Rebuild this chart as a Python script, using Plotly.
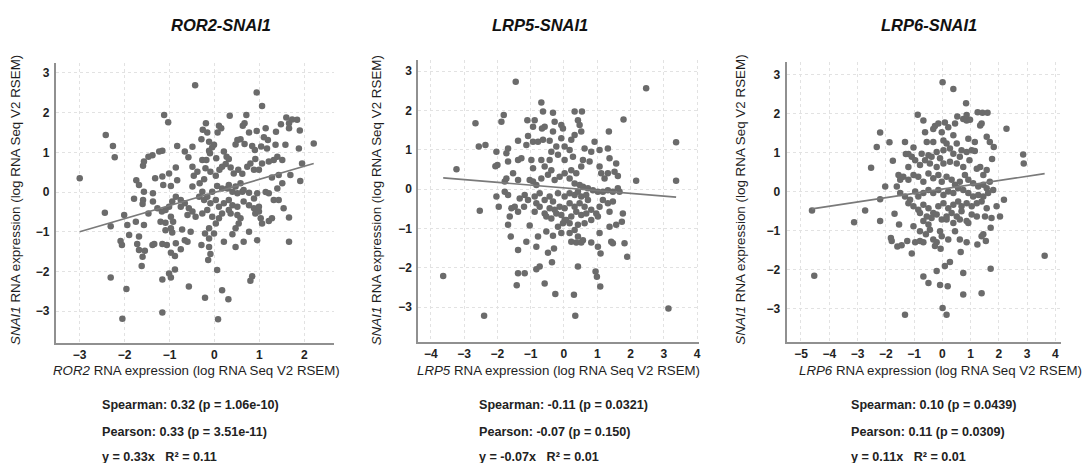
import plotly.graph_objects as go

W, H = 1089, 463

panel_titles = ["ROR2-SNAI1", "LRP5-SNAI1", "LRP6-SNAI1"]
x_genes = ["ROR2", "LRP5", "LRP6"]
y_gene = "SNAI1"

spearman_text = ["Spearman: 0.32 (p = 1.06e-10)", "Spearman: -0.11 (p = 0.0321)", "Spearman: 0.10 (p = 0.0439)"]
pearson_text = ["Pearson: 0.33 (p = 3.51e-11)", "Pearson: -0.07 (p = 0.150)", "Pearson: 0.11 (p = 0.0309)"]
fit_text = ["y = 0.33x   R² = 0.11", "y = -0.07x   R² = 0.01", "y = 0.11x   R² = 0.01"]

fit_slope = [0.33, -0.07, 0.11]
fit_intercept = [-0.01, 0.03, 0.07]

x_ticks = [[-3, -2, -1, 0, 1, 2], [-4, -3, -2, -1, 0, 1, 2, 3, 4], [-5, -4, -3, -2, -1, 0, 1, 2, 3, 4]]
y_ticks = [-3, -2, -1, 0, 1, 2, 3]
x_ranges = [[-3.53, 2.67], [-4.38, 4.05], [-5.51, 4.20]]
y_ranges = [[-3.80, 3.25], [-3.89, 3.28], [-3.85, 3.33]]

ror2_snai1 = [
    (-0.43, 2.69), (0.94, 2.51), (1.06, 2.17), (-1.12, 1.94), (-1.03, 1.76), (0.34, 1.92), (0.71, 1.94), (0.67, 1.73),
    (0.63, 1.67), (1.60, 1.88), (1.73, 1.83), (1.84, 1.82), (1.66, 1.73), (1.66, 1.61), (1.48, 1.71), (1.90, 1.55),
    (2.21, 1.22), (0.94, 1.54), (0.77, 1.50), (1.14, 1.61), (1.37, 1.52), (1.10, 1.38), (1.19, 1.31), (1.04, 1.15),
    (1.17, 1.10), (0.10, 1.67), (0.15, 1.61), (0.07, 1.50), (-0.16, 1.50), (-0.26, 1.57), (-0.19, 1.73), (-0.29, 1.33),
    (-0.12, 1.27), (-0.01, 1.19), (-0.05, 1.13), (0.51, 1.31), (0.58, 1.33), (0.47, 1.20), (0.67, 1.21), (0.84, 1.16),
    (0.90, 1.06), (1.36, 1.19), (1.58, 1.19), (1.88, 1.10), (1.95, 0.72), (1.91, 0.28), (0.21, 1.02), (0.27, 0.89),
    (0.32, 0.83), (-0.12, 1.04), (-0.10, 0.98), (0.04, 0.85), (-0.49, 1.14), (-0.66, 1.02), (-0.58, 0.88), (-0.27, 0.81),
    (-0.18, 0.81), (-0.83, 1.16), (-1.16, 1.04), (-1.23, 1.02), (-1.38, 0.93), (-1.47, 0.89), (-1.59, 0.66), (-1.57, 0.77),
    (-2.42, 1.44), (-2.26, 1.16), (-2.22, 0.88), (-3.00, 0.35), (-1.74, 0.30), (-1.68, 0.18), (-1.79, -0.17), (-1.57, 0.01),
    (-1.59, -0.20), (-1.60, -0.30), (-1.32, 0.35), (-1.37, -0.03), (-1.47, -0.54), (-1.37, -0.24), (-1.16, 0.39), (-1.14, 0.18),
    (-1.01, 0.47), (-0.97, 0.15), (-0.86, 0.62), (-0.83, 0.30), (-0.49, 0.64), (-0.46, 0.41), (-0.38, 0.51), (-0.49, 0.14),
    (-0.33, 0.22), (-0.23, 0.32), (-0.20, 0.60), (-0.09, 0.51), (0.03, 0.41), (0.11, 0.56), (0.17, 0.64), (0.25, 0.71),
    (0.36, 0.62), (0.43, 0.47), (0.53, 0.56), (0.62, 0.46), (0.73, 0.64), (0.80, 0.72), (0.91, 0.83), (0.88, 0.56),
    (0.99, 0.56), (1.06, 0.72), (1.21, 0.77), (1.32, 0.81), (1.40, 0.89), (1.51, 0.81), (1.28, 0.37), (1.43, 0.43),
    (1.69, 0.43), (1.51, 0.22), (1.40, 0.09), (0.58, 0.22), (0.47, 0.14), (0.62, 0.01), (0.77, -0.02), (0.88, -0.16),
    (0.95, -0.03), (0.32, 0.18), (0.17, 0.09), (0.06, 0.15), (-0.05, 0.01), (-0.27, 0.01), (-0.34, -0.12), (-0.23, -0.20),
    (-0.16, -0.12), (-0.09, -0.28), (0.03, -0.20), (0.10, -0.37), (-0.86, -0.12), (-0.75, -0.20), (-0.66, -0.28), (-0.75, -0.37),
    (-0.94, -0.24), (-1.01, -0.37), (-1.09, -0.45), (-1.17, -0.49), (-1.27, -0.41), (-0.57, -0.41), (-0.49, -0.49), (-0.60, -0.58),
    (-0.42, -0.62), (-0.27, -0.54), (-0.16, -0.45), (-0.05, -0.62), (0.10, -0.66), (0.03, -0.79), (-0.12, -0.91), (-0.21, -1.04),
    (-0.12, -1.17), (-0.97, -0.62), (-0.92, -0.75), (-1.09, -0.77), (-1.20, -0.75), (-0.97, -0.91), (-1.09, -0.96), (-0.94, -1.02),
    (-1.57, -0.83), (-1.75, -0.75), (-1.94, -0.83), (-1.90, -1.08), (-2.09, -1.23), (-2.06, -1.33), (-1.68, -1.12), (-1.72, -1.31),
    (-1.68, -1.46), (-1.55, -1.48), (-1.60, -1.63), (-1.62, -1.86), (-2.44, -0.52), (-2.31, -0.86), (-2.01, -0.58), (-1.38, -1.33),
    (-1.34, -1.31), (-1.16, -1.31), (-1.06, -1.33), (-0.97, -1.53), (-0.86, -1.29), (-0.88, -1.61), (-0.75, -1.44), (-0.66, -1.21),
    (-0.60, -1.25), (-0.53, -1.00), (-0.72, -0.94), (-0.88, -1.95), (-1.01, -2.05), (-1.16, -2.20), (-0.97, -2.15), (-0.29, -1.33),
    (-0.12, -1.38), (-0.09, -1.56), (-0.14, -1.71), (-0.01, -1.04), (0.21, -1.25), (0.40, -1.06), (0.47, -0.91), (0.54, -0.79),
    (0.58, -0.66), (0.51, -0.58), (0.36, -0.54), (0.47, -1.38), (0.65, -1.25), (0.77, -1.00), (0.95, -1.21), (0.91, -0.54),
    (0.99, -0.49), (1.06, -0.79), (1.21, -0.73), (1.28, -0.66), (1.03, -0.66), (0.88, -0.41), (0.99, -0.37), (1.14, 0.00),
    (1.21, -0.03), (1.32, -0.20), (1.43, -0.20), (1.54, -0.41), (1.66, -0.64), (1.66, -1.25), (0.32, -0.20), (0.40, -0.33),
    (0.51, -0.37), (0.21, -0.28), (0.32, -0.45), (0.17, -0.54), (0.65, -0.24), (0.77, -0.33), (0.65, 0.05), (0.51, -0.03),
    (0.40, 0.01), (0.29, 0.09), (0.06, -1.96), (0.17, -2.47), (0.31, -2.70), (-0.21, -2.66), (-0.57, -2.38), (0.84, -2.12),
    (0.80, -2.23), (-1.96, -2.44), (-2.05, -3.19), (-1.16, -3.03), (0.08, -3.20), (-2.31, -2.15),
]

lrp5_snai1 = [
    (-1.45, 2.73), (2.47, 2.56), (-0.68, 2.20), (-2.66, 1.67), (-1.88, 1.71), (-1.81, 1.88), (-2.56, 1.08), (-2.36, 1.12),
    (-3.23, 0.50), (-2.53, -0.55), (-3.63, -2.21), (-2.40, -3.22), (0.34, -3.22), (3.14, -3.04), (3.37, 1.19), (3.37, 0.21),
    (2.17, 0.21), (1.79, 1.77), (1.35, 1.46), (-1.10, 1.75), (-0.88, 1.75), (-0.93, 1.58), (-0.63, 1.97), (-0.33, 1.94),
    (-0.28, 1.71), (-0.58, 1.58), (-0.66, 1.54), (-0.33, 1.46), (-0.08, 1.63), (-0.03, 1.54), (0.32, 1.97), (0.54, 1.97),
    (0.42, 1.75), (0.47, 1.63), (0.32, 1.37), (0.52, 1.46), (0.22, 1.25), (-1.08, 1.35), (-0.93, 1.20), (-0.78, 1.20),
    (-0.63, 1.25), (-0.43, 1.23), (-0.08, 1.29), (0.02, 1.08), (-1.38, 1.23), (-1.13, 1.12), (-1.68, 1.03), (-1.73, 0.91),
    (-2.03, 0.95), (-2.00, 0.61), (-2.06, 0.58), (-1.68, 0.70), (-1.38, 0.74), (-1.28, 0.78), (-0.98, 0.74), (-0.93, 0.53),
    (-0.68, 0.74), (-0.58, 0.57), (-0.43, 0.74), (-0.38, 0.95), (-0.18, 0.87), (-0.23, 1.08), (0.02, 0.74), (0.17, 0.99),
    (0.27, 0.82), (0.22, 0.48), (0.37, 0.40), (0.52, 0.57), (0.57, 0.74), (0.77, 0.70), (0.82, 0.95), (0.62, 1.03),
    (0.92, 1.20), (1.07, 0.99), (1.32, 1.03), (1.37, 0.78), (1.57, 0.65), (1.52, 0.44), (1.32, 0.40), (1.22, 0.27),
    (1.62, 0.33), (1.12, 0.40), (1.07, 0.57), (-1.73, 0.27), (-1.78, 0.19), (-1.53, 0.40), (-1.38, 0.23), (-1.03, 0.23),
    (-0.93, 0.19), (-0.83, 0.10), (-0.68, 0.27), (-0.48, 0.36), (-0.38, 0.48), (-0.28, 0.23), (-0.13, 0.31), (0.02, 0.40),
    (0.17, 0.27), (0.32, 0.14), (0.47, 0.10), (0.57, 0.06), (0.72, 0.02), (0.87, -0.03), (1.02, -0.07), (1.17, -0.07),
    (1.32, -0.03), (1.47, -0.07), (1.62, 0.02), (1.67, -0.07), (-1.78, -0.07), (-1.68, -0.15), (-2.03, -0.19), (-1.96, -0.45),
    (-1.58, -0.49), (-1.48, -0.45), (-1.33, -0.24), (-1.18, -0.15), (-1.08, -0.28), (-1.20, -0.45), (-1.38, -0.58), (-1.63, -0.70),
    (-1.68, -0.91), (-1.60, -1.21), (-1.38, -1.55), (-1.13, -1.34), (-1.03, -0.93), (-0.88, -0.19), (-0.73, -0.11), (-0.58, -0.28),
    (-0.43, -0.19), (-0.33, -0.32), (-0.18, -0.11), (0.02, -0.19), (0.17, -0.11), (0.32, -0.15), (0.42, -0.07), (0.52, -0.19),
    (0.67, -0.15), (0.72, -0.28), (0.62, -0.45), (0.47, -0.36), (0.32, -0.45), (0.17, -0.36), (0.02, -0.49), (-0.13, -0.45),
    (-0.28, -0.53), (-0.43, -0.49), (-0.58, -0.62), (-0.73, -0.45), (-0.83, -0.36), (-0.88, -0.58), (-0.53, -0.70), (-0.38, -0.75),
    (-0.23, -0.62), (-0.08, -0.66), (0.07, -0.79), (0.22, -0.70), (0.37, -0.58), (0.52, -0.66), (0.67, -0.62), (0.82, -0.53),
    (0.97, -0.62), (1.07, -0.45), (1.17, -0.28), (1.32, -0.36), (1.47, -0.32), (1.37, -0.58), (1.02, -0.70), (0.82, -0.79),
    (0.62, -0.87), (0.42, -0.91), (0.17, -0.87), (-0.03, -0.87), (-0.18, -0.96), (0.02, -0.79), (-0.53, -1.08), (-0.33, -1.19),
    (-0.08, -1.12), (0.17, -1.12), (0.32, -1.04), (0.42, -1.21), (0.57, -1.30), (0.22, -1.34), (0.37, -1.36), (0.52, -1.36),
    (0.82, -1.36), (1.07, -1.12), (1.02, -1.47), (1.10, -1.64), (1.42, -1.34), (1.47, -1.38), (1.82, -1.38), (1.77, -0.62),
    (1.57, -0.91), (1.74, -0.83), (1.90, -1.72), (1.37, -0.96), (-0.78, -1.21), (-0.83, -1.47), (-0.48, -1.62), (-0.30, -1.51),
    (-0.36, -1.86), (-0.83, -2.04), (-0.73, -1.97), (-0.58, -2.40), (-0.26, -2.67), (0.30, -2.69), (0.42, -1.97), (0.95, -2.10),
    (0.99, -2.23), (1.09, -2.48), (-1.38, -2.14), (-1.18, -2.14), (-1.42, -2.45),
]

lrp6_snai1 = [
    (0.01, 2.81), (0.39, 2.64), (0.84, 2.27), (-0.87, 1.98), (1.25, 2.04), (1.42, 2.03), (1.60, 2.03), (2.27, 1.62),
    (2.86, 0.96), (2.88, 0.73), (3.62, -1.64), (-4.53, -2.15), (-4.61, -0.48), (-3.12, -0.78), (-2.73, -0.48), (-2.20, -0.75),
    (-2.52, 0.62), (-2.32, 1.15), (-2.20, 1.52), (-1.87, 1.27), (-1.75, 0.80), (-2.02, 0.14), (-2.20, -0.19), (-1.69, -0.56),
    (-0.67, 1.83), (-0.61, 1.53), (-0.32, 1.61), (-0.26, 1.69), (-0.14, 1.75), (0.09, 1.78), (-0.02, 1.53), (0.21, 1.66),
    (0.45, 1.75), (0.53, 1.93), (0.74, 1.87), (0.86, 1.83), (0.98, 1.85), (1.39, 1.75), (1.34, 1.70), (0.86, 1.97),
    (-1.32, 1.28), (-1.29, 0.97), (-1.20, 0.97), (-1.02, 1.14), (-0.55, 1.28), (-0.32, 1.28), (0.04, 1.32), (0.15, 1.24),
    (0.39, 1.45), (0.51, 1.24), (0.92, 1.36), (1.15, 1.28), (1.57, 1.41), (1.68, 1.28), (1.82, 1.15), (1.76, 0.84),
    (1.57, 0.56), (1.45, 0.43), (1.34, 0.64), (1.22, 0.59), (-0.73, 0.98), (-0.49, 0.94), (-0.38, 0.90), (-0.20, 1.02),
    (-0.08, 0.86), (0.04, 1.07), (0.27, 1.11), (0.39, 0.98), (0.62, 0.90), (0.68, 1.07), (0.86, 1.02), (1.04, 1.07),
    (1.15, 1.05), (0.96, 0.81), (0.74, 0.64), (0.51, 0.73), (0.27, 0.77), (0.04, 0.73), (-0.20, 0.64), (-0.44, 0.73),
    (-0.61, 0.81), (-0.79, 0.69), (-0.96, 0.81), (-1.08, 0.90), (-1.20, 0.64), (-1.55, 0.43), (-1.49, 0.31), (-1.61, 0.14),
    (-1.38, 0.39), (-1.20, 0.31), (-1.02, 0.43), (-0.85, 0.39), (-0.67, 0.26), (-0.49, 0.47), (-0.32, 0.35), (-0.14, 0.43),
    (-0.02, 0.26), (0.15, 0.39), (0.33, 0.31), (0.45, 0.18), (0.62, 0.26), (0.80, 0.43), (0.92, 0.31), (1.09, 0.22),
    (1.27, 0.14), (1.45, 0.18), (1.57, 0.09), (1.68, 0.26), (-1.49, -0.03), (-1.32, -0.12), (-1.14, -0.20), (-0.96, 0.01),
    (-0.85, -0.12), (-0.67, -0.03), (-0.49, 0.05), (-0.32, -0.03), (-0.14, 0.05), (0.04, -0.08), (0.21, 0.01), (0.39, -0.03),
    (0.56, 0.09), (0.74, 0.05), (0.92, -0.03), (1.09, -0.12), (1.27, -0.08), (1.45, -0.12), (1.62, -0.03), (1.80, 0.05),
    (-1.20, -0.29), (-1.02, -0.37), (-0.85, -0.46), (-0.67, -0.33), (-0.49, -0.42), (-0.32, -0.54), (-0.14, -0.37), (0.04, -0.29),
    (0.21, -0.42), (0.39, -0.33), (0.56, -0.25), (0.68, -0.37), (0.86, -0.29), (1.04, -0.37), (1.22, -0.29), (1.39, -0.25),
    (1.57, -0.42), (1.92, -0.37), (2.04, -0.63), (2.18, -0.20), (1.74, -0.67), (1.51, -0.63), (1.22, -0.63), (1.04, -0.58),
    (-0.79, -0.54), (-0.55, -0.63), (-0.38, -0.67), (-0.20, -0.58), (-0.02, -0.71), (0.15, -0.63), (0.33, -0.54), (0.51, -0.63),
    (0.68, -0.50), (0.86, -0.75), (0.92, -0.80), (0.62, -0.71), (0.39, -0.80), (0.15, -0.71), (-1.53, -0.84), (-1.02, -0.88),
    (-0.79, -1.01), (-0.67, -0.75), (-0.49, -0.84), (-0.44, -0.97), (-0.58, -1.09), (-0.32, -1.22), (-0.08, -1.01), (-0.02, -1.14),
    (0.21, -1.22), (0.45, -1.01), (0.62, -1.22), (0.86, -1.29), (1.24, -1.35), (1.45, -1.09), (1.54, -1.26), (1.71, -0.92),
    (1.39, -1.14), (-1.82, -1.18), (-1.79, -1.26), (-1.59, -1.40), (-1.44, -1.37), (-1.24, -1.26), (-0.96, -1.29), (-0.79, -1.26),
    (-0.67, -1.29), (-0.20, -1.29), (-0.06, -1.46), (-0.26, -1.39), (-1.08, -1.58), (0.65, -1.54), (0.27, -1.80), (0.09, -1.90),
    (0.74, -2.08), (1.71, -1.97), (-0.67, -2.17), (-0.49, -2.34), (-0.20, -2.03), (-0.08, -2.39), (0.19, -2.42), (0.74, -2.63),
    (1.39, -2.60), (0.01, -2.98), (0.15, -3.15), (-1.32, -3.15),
]

panel_points = [ror2_snai1, lrp5_snai1, lrp6_snai1]

# layout geometry (pixels)
plot_x = [(56, 335), (419, 700), (788, 1063)]
plot_y = [(63, 343), (60, 342), (62, 342)]
title_cx = [221, 541, 931]
xtitle_cx = [197, 560, 942]
ylab_x = [15, 377, 741]
stats_x = [100, 478, 851]

FONT = "Liberation Sans, Arial, sans-serif"
MARK = "#6b6b6b"
LINE = "#7a7a7a"

fig = go.Figure()
annotations = []
layout = dict(
    width=W, height=H, margin=dict(l=0, r=0, t=0, b=0),
    paper_bgcolor="white", plot_bgcolor="white", showlegend=False,
    font=dict(family=FONT, color="#222222"),
)

for i in range(3):
    sfx = "" if i == 0 else str(i + 1)
    xs = [p[0] for p in panel_points[i]]
    ys = [p[1] for p in panel_points[i]]
    fig.add_trace(go.Scatter(
        x=xs, y=ys, mode="markers", xaxis="x" + sfx, yaxis="y" + sfx,
        marker=dict(size=6.5, color=MARK, line=dict(width=0)),
    ))
    x0, x1 = min(xs), max(xs)
    fig.add_trace(go.Scatter(
        x=[x0, x1], y=[fit_slope[i] * x0 + fit_intercept[i], fit_slope[i] * x1 + fit_intercept[i]],
        mode="lines", xaxis="x" + sfx, yaxis="y" + sfx,
        line=dict(color=LINE, width=1.6),
    ))
    layout["xaxis" + sfx] = dict(
        domain=[plot_x[i][0] / W, plot_x[i][1] / W], range=x_ranges[i], anchor="y" + sfx,
        tickvals=x_ticks[i], showgrid=True, gridcolor="#e2e2e2", griddash="dot", gridwidth=1,
        zeroline=False, showline=True, linecolor="#909090", linewidth=2,
        ticks="",
        tickfont=dict(size=12, family=FONT, color="#222222", weight="bold"),
    )
    layout["yaxis" + sfx] = dict(
        domain=[1 - plot_y[i][1] / H, 1 - plot_y[i][0] / H], range=y_ranges[i], anchor="x" + sfx,
        tickvals=y_ticks, showgrid=True, gridcolor="#e2e2e2", griddash="dot", gridwidth=1,
        zeroline=False, showline=True, linecolor="#909090", linewidth=2,
        ticks="outside", ticklen=2, tickcolor="white",
        tickfont=dict(size=12, family=FONT, color="#222222", weight="bold"),
    )
    annotations.append(dict(
        text="<b><i>%s</i></b>" % panel_titles[i], x=title_cx[i] / W, y=1 - 25 / H,
        xref="paper", yref="paper", showarrow=False, xanchor="center", yanchor="middle",
        font=dict(size=16.5, family=FONT, color="#111111"),
    ))
    annotations.append(dict(
        text="<i>%s</i> RNA expression (log RNA Seq V2 RSEM)" % x_genes[i],
        x=xtitle_cx[i] / W, y=1 - 370 / H, xref="paper", yref="paper", showarrow=False,
        xanchor="center", yanchor="middle", font=dict(size=13.3, family=FONT, color="#1e1e1e"),
    ))
    annotations.append(dict(
        text="<i>%s</i> RNA expression (log RNA Seq V2 RSEM)" % y_gene,
        x=ylab_x[i] / W, y=1 - 200 / H, xref="paper", yref="paper", showarrow=False,
        textangle=-90, xanchor="center", yanchor="middle",
        font=dict(size=13.4, family=FONT, color="#1e1e1e"),
    ))
    for txt, yy in zip([spearman_text[i], pearson_text[i], fit_text[i]], [405, 432, 457]):
        annotations.append(dict(
            text="<b>%s</b>" % txt, x=stats_x[i] / W, y=1 - yy / H, xref="paper", yref="paper",
            showarrow=False, xanchor="left", yanchor="middle",
            font=dict(size=12.6, family=FONT, color="#222222"),
        ))

layout["annotations"] = annotations
fig.update_layout(**layout)
fig.write_html(
    "out.html",
    config={"displayModeBar": False, "staticPlot": True},
    post_script="document.body.style.margin='0px';document.body.style.padding='0px';document.body.style.overflow='hidden';",
)
